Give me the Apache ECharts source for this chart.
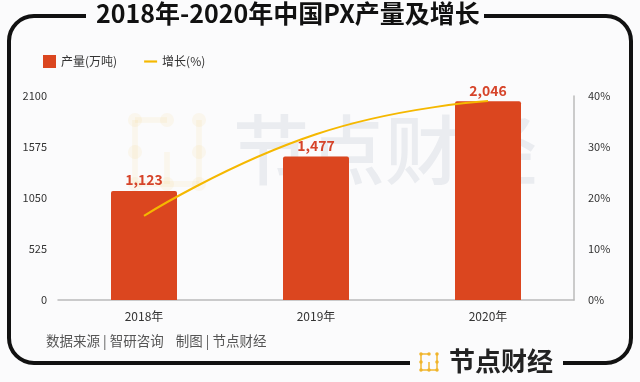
<!DOCTYPE html>
<html>
<head>
<meta charset="utf-8">
<script src="https://cdn.jsdelivr.net/npm/echarts@6/dist/echarts.min.js"></script>
<style>
html,body{margin:0;padding:0;background:#fbfbfc;}
#c{width:640px;height:382px;}
</style>
</head>
<body>
<div id="c"></div>
<script>
var categories = ['2018年', '2019年', '2020年'];
var output = [1123, 1477, 2046];
var growth = [16.5, 32.5, 39.0];
var leftTicks = {min: 0, max: 2100, interval: 525};
var rightTicks = {min: 0, max: 40, interval: 10};

var BG = '#fbfbfc';
var FONT = '"Noto Sans CJK SC", "Noto Sans", sans-serif';
var chart = echarts.init(document.getElementById('c'));

function logoDots(x0, y0, s, color, z) {
  var els = [];
  for (var i = 0; i < 3; i++) for (var j = 0; j < 3; j++) {
    if (i === 1 && j === 1) continue;
    els.push({type: 'circle', shape: {cx: x0 + j * s, cy: y0 + i * s, r: s * 0.22}, style: {fill: color}, z: z, silent: true});
  }
  var segs = [[[x0, y0], [x0 + s, y0]], [[x0, y0], [x0, y0 + 2 * s]], [[x0, y0 + 2 * s], [x0 + 2 * s, y0 + 2 * s]],
    [[x0 + 2 * s, y0], [x0 + 2 * s, y0 + 2 * s]], [[x0 + s, y0 + 2 * s], [x0 + s, y0 + s]]];
  segs.forEach(function (sg) {
    els.push({type: 'line', shape: {x1: sg[0][0], y1: sg[0][1], x2: sg[1][0], y2: sg[1][1]}, style: {stroke: color, lineWidth: s * 0.18}, z: z, silent: true});
  });
  return els;
}

var graphics = [
  {type: 'rect', shape: {x: 9, y: 16, width: 622, height: 347, r: 25}, style: {fill: 'none', stroke: '#111', lineWidth: 4}, z: 1, silent: true},
  {type: 'rect', shape: {x: 86, y: 5, width: 398, height: 24}, style: {fill: BG}, z: 2, silent: true},
  {type: 'rect', shape: {x: 410, y: 351, width: 153, height: 24}, style: {fill: BG}, z: 2, silent: true},
  {type: 'text', left: 96, top: 1, style: {text: '2018年-2020年中国PX产量及增长', font: 'bold 25px ' + FONT, fill: '#111'}, z: 3},
  {type: 'text', left: 46, top: 334, style: {text: '数据来源 | 智研咨询    制图 | 节点财经', font: '13.5px ' + FONT, fill: '#555'}, z: 3},
  {type: 'text', left: 449, top: 348, style: {text: '节点财经', font: 'bold 26px ' + FONT, fill: '#222'}, z: 3},
  {type: 'text', left: 233, top: 112, style: {text: '节点财经', font: '500 76px ' + FONT, fill: 'rgba(20,40,80,0.07)'}, z: 0}
];
graphics = graphics.concat(logoDots(421, 354, 8, '#f0b429', 3));
graphics = graphics.concat(logoDots(135, 120, 32, 'rgba(240,180,41,0.07)', 0));

chart.setOption({
  backgroundColor: BG,
  animation: false,
  graphic: graphics,
  legend: {
    left: 38, top: 50, itemGap: 27, itemWidth: 13, itemHeight: 13,
    textStyle: {fontSize: 12, color: '#333', fontFamily: FONT},
    data: [{name: '产量(万吨)', icon: 'rect'}, {name: '增长(%)', icon: 'path://M0,0 L12,0 L12,2 L0,2 Z'}]
  },
  grid: {left: 58, right: 66, top: 96, bottom: 82},
  xAxis: {
    type: 'category', data: categories,
    axisLine: {lineStyle: {color: '#bbb', width: 1.5}},
    axisTick: {show: false},
    axisLabel: {color: '#333', fontSize: 12, margin: 10, fontFamily: FONT}
  },
  yAxis: [{
    type: 'value', min: leftTicks.min, max: leftTicks.max, interval: leftTicks.interval,
    axisLine: {show: false}, axisTick: {show: false}, splitLine: {show: false},
    axisLabel: {color: '#333', fontSize: 11, margin: 11, fontFamily: FONT, formatter: function (v) { return String(v); }}
  }, {
    type: 'value', min: rightTicks.min, max: rightTicks.max, interval: rightTicks.interval, position: 'right',
    axisLine: {show: true, lineStyle: {color: '#bbb', width: 1.5}}, axisTick: {show: false}, splitLine: {show: false},
    axisLabel: {color: '#333', fontSize: 11, margin: 14, formatter: '{value}%', fontFamily: FONT}
  }],
  series: [{
    name: '产量(万吨)', type: 'bar', data: output, barWidth: 66,
    itemStyle: {color: '#db461f', borderRadius: [2, 2, 0, 0]},
    label: {show: true, position: 'top', distance: 4, color: '#d6442a', fontWeight: 'bold', fontSize: 14, fontFamily: FONT,
      formatter: function (p) { return p.value.toLocaleString('en-US'); }}
  }, {
    name: '增长(%)', type: 'line', yAxisIndex: 1, data: growth, smooth: true,
    symbol: 'none', lineStyle: {color: '#f5b800', width: 2}, itemStyle: {color: '#f5b800'}
  }]
});
</script>
</body>
</html>
